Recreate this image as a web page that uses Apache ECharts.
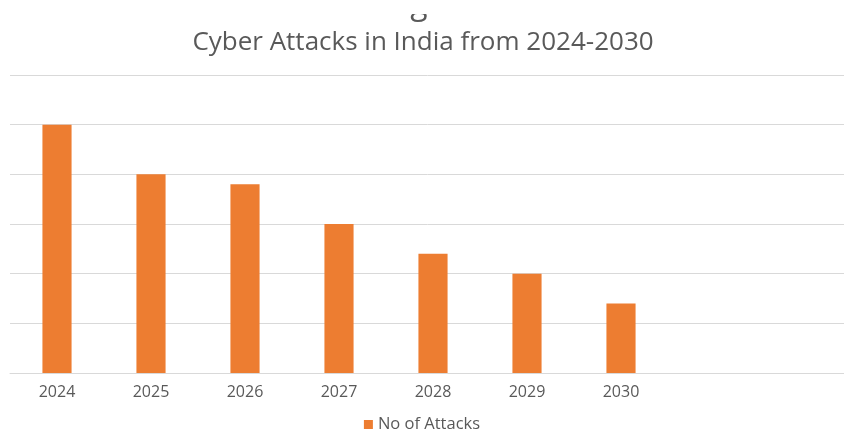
<!DOCTYPE html>
<html><head><meta charset="utf-8">
<script src="https://cdn.jsdelivr.net/npm/echarts@6/dist/echarts.min.js"></script>
<style>html,body{margin:0;padding:0;background:#fff}#c{width:844px;height:435px}</style>
</head><body><div id="c"></div>
<script>
const categories = ['2024','2025','2026','2027','2028','2029','2030','',''];
const attacks = [5, 4, 3.8, 3, 2.4, 2, 1.4, null, null];
const seriesName = 'No of Attacks';
const titleText = 'Cyber Attacks in India from 2024-2030';

const chart = echarts.init(document.getElementById('c'), null, {renderer:'canvas'});
chart.setOption({
  animation:false,
  backgroundColor:'#ffffff',
  title:{text:titleText,left:418,top:25,textAlign:'center',
    textStyle:{fontFamily:'Open Sans, sans-serif',fontSize:26,fontWeight:'normal',color:'#595959'}},
  graphic:[
    {type:'text',z:10,style:{x:419,y:21,text:'g',align:'center',verticalAlign:'bottom',fontFamily:'Open Sans, sans-serif',fontSize:32,fill:'#595959'}},
    {type:'rect',z:11,shape:{x:380,y:0,width:80,height:14},style:{fill:'#ffffff'}}
  ],
  legend:{bottom:-3,left:'center',itemWidth:9,itemHeight:9,itemGap:5,icon:'rect',
    textStyle:{fontFamily:'Open Sans, sans-serif',fontSize:16.5,color:'#595959'},data:[seriesName]},
  grid:{left:10,top:75,width:846,bottom:62,containLabel:false,outerBoundsMode:'none'},
  xAxis:{type:'category',data:categories,
    axisLine:{lineStyle:{color:'#d9d9d9',width:1}},axisTick:{show:false},
    axisLabel:{margin:11,fontFamily:'Open Sans, sans-serif',fontSize:16,color:'#595959'}},
  yAxis:{type:'value',min:0,max:6,interval:1,axisLabel:{show:false},axisLine:{show:false},axisTick:{show:false},
    splitLine:{lineStyle:{color:'#d9d9d9',width:1}}},
  series:[{name:seriesName,type:'bar',data:attacks,barWidth:'31%',itemStyle:{color:'#ED7D31'}}]
});
</script></body></html>
